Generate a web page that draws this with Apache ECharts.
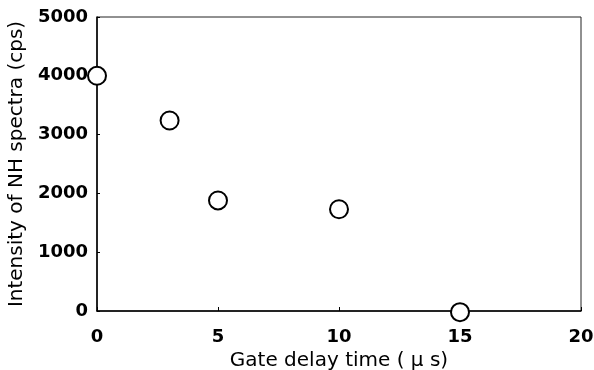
<!DOCTYPE html>
<html>
<head>
<meta charset="utf-8">
<script src="https://cdn.jsdelivr.net/npm/echarts@6/dist/echarts.min.js"></script>
<style>
  html, body { margin: 0; padding: 0; background: #fff; }
  #chart { width: 594px; height: 370px; }
</style>
</head>
<body>
<div id="chart"></div>
<script>
// gate delay (us) vs NH intensity (cps)
const delayTimes = [0, 3, 5, 10, 15]
const intensities = [4000, 3240, 1880, 1730, -20]
const xTicks = [0, 5, 10, 15, 20]
const yTicks = [0, 1000, 2000, 3000, 4000, 5000]

const points = delayTimes.map((t, i) => [t, intensities[i]])

const myChart = echarts.init(document.getElementById('chart'))
const option = {
  animation: false,
  grid: {
    left: 97,
    right: 13,
    top: 17,
    bottom: 59,
    containLabel: false,
    outerBoundsMode: 'none',
    show: true,
    borderColor: '#222',
    borderWidth: 1,
  },
  xAxis: {
    type: 'value',
    min: xTicks[0],
    max: xTicks[xTicks.length - 1],
    interval: 5,
    name: 'Gate delay time ( μ s)',
    nameLocation: 'middle',
    nameGap: 35,
    nameTextStyle: { fontFamily: 'DejaVu Sans', fontSize: 20, color: '#000' },
    axisLine: { onZero: false, lineStyle: { color: '#000', width: 1.5 } },
    axisTick: { inside: true, length: 4, lineStyle: { color: '#000' } },
    axisLabel: {
      margin: 17,
      fontFamily: 'DejaVu Sans',
      fontWeight: 'bold',
      fontSize: 18,
      color: '#000',
      formatter: (v) => String(v),
    },
    splitLine: { show: false },
  },
  yAxis: {
    type: 'value',
    min: yTicks[0],
    max: yTicks[yTicks.length - 1],
    interval: 1000,
    name: 'Intensity of NH spectra (cps)',
    nameLocation: 'middle',
    nameGap: 66,
    nameTextStyle: { fontFamily: 'DejaVu Sans', fontSize: 20, color: '#000' },
    axisLine: { show: true, lineStyle: { color: '#000', width: 1.5 } },
    axisTick: { show: true, inside: true, length: 3, lineStyle: { color: '#000' } },
    axisLabel: {
      margin: 9,
      fontFamily: 'DejaVu Sans',
      fontWeight: 'bold',
      fontSize: 18,
      color: '#000',
      formatter: (v) => String(v),
    },
    splitLine: { show: false },
  },
  series: [
    {
      type: 'scatter',
      data: points,
      clip: false,
      symbol: 'circle',
      symbolSize: 18,
      itemStyle: { color: '#fff', borderColor: '#000', borderWidth: 2, opacity: 1 },
      z: 5,
    },
  ],
}
myChart.setOption(option, true)
</script>
</body>
</html>
